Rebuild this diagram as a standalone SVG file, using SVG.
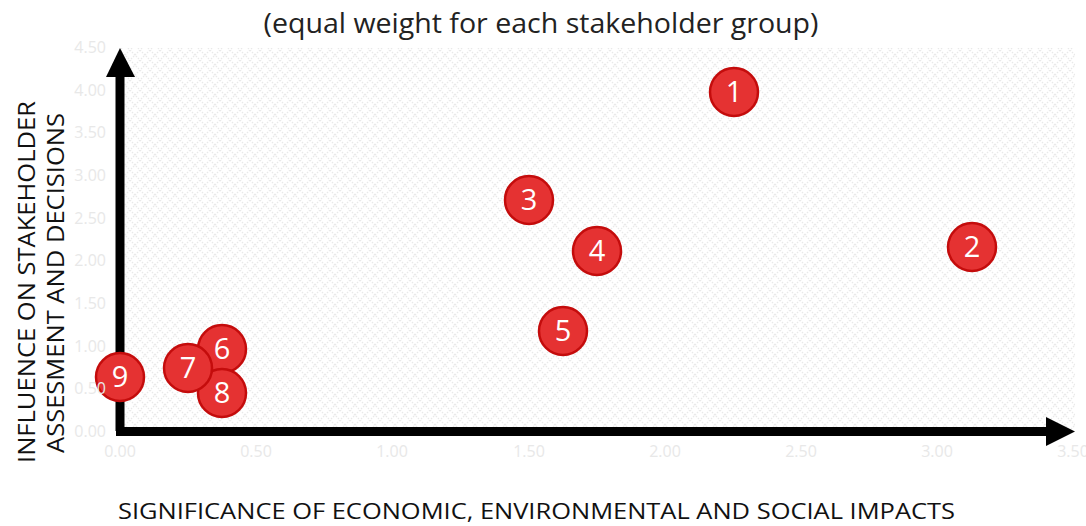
<svg xmlns="http://www.w3.org/2000/svg" width="1086" height="526" viewBox="0 0 1086 526">
<style>
.tick{font-family:"Open Sans","Liberation Sans",sans-serif;font-size:16px;fill:#e8e8e8}
.yt{text-anchor:end}
.xt{text-anchor:middle}
.lbl{font-family:"Open Sans","Liberation Sans",sans-serif;font-size:22px;fill:#111}
.node circle{fill:#e53232;stroke:#c40c0c;stroke-width:2.5}
.node text{font-family:"Open Sans","Liberation Sans",sans-serif;font-size:29px;fill:#fff;text-anchor:middle}
</style>
<defs>
<pattern id="hatch" width="10" height="10" patternUnits="userSpaceOnUse">
<path d="M0,0 L10,10 M10,0 L0,10" stroke="#e9e9e9" stroke-width="1.3" stroke-dasharray="1.5,1.3"/>
</pattern>
</defs>
<rect width="1086" height="526" fill="#fff"/>
<rect x="121" y="48" width="954" height="384" fill="url(#hatch)"/>
<text x="541" y="33" text-anchor="middle" textLength="555" lengthAdjust="spacingAndGlyphs" style="font-family:'Open Sans','Liberation Sans',sans-serif;font-size:28px;fill:#222">(equal weight for each stakeholder group)</text>
<g id="axes">
<path d="M120,431 V76" stroke="#000" stroke-width="9" fill="none"/>
<polygon points="120,48 106,77 135,77" fill="#000"/>
<path d="M116,431.5 H1047" stroke="#000" stroke-width="9" fill="none"/>
<polygon points="1075,431.5 1046,417 1046,446" fill="#000"/>
</g>
<g id="n1" class="node"><circle cx="734" cy="92" r="24"/><text x="734" y="102">1</text></g>
<g id="n2" class="node"><circle cx="972" cy="247" r="24"/><text x="972" y="257">2</text></g>
<g id="n3" class="node"><circle cx="529" cy="200" r="24"/><text x="529" y="210">3</text></g>
<g id="n4" class="node"><circle cx="597" cy="251" r="24"/><text x="597" y="261">4</text></g>
<g id="n5" class="node"><circle cx="563" cy="331" r="24"/><text x="563" y="341">5</text></g>
<g id="n6" class="node"><circle cx="222" cy="349" r="24"/><text x="222" y="359">6</text></g>
<g id="n8" class="node"><circle cx="222" cy="393" r="24"/><text x="222" y="403">8</text></g>
<g id="n7" class="node"><circle cx="188" cy="368" r="24"/><text x="188" y="378">7</text></g>
<g id="n9" class="node"><circle cx="120" cy="377" r="24"/><text x="120" y="387">9</text></g>
<g id="yticks" class="tick yt">
<text x="106" y="53">4.50</text>
<text x="106" y="96">4.00</text>
<text x="106" y="138">3.50</text>
<text x="106" y="181">3.00</text>
<text x="106" y="224">2.50</text>
<text x="106" y="266">2.00</text>
<text x="106" y="309">1.50</text>
<text x="106" y="352">1.00</text>
<text x="106" y="394">0.50</text>
<text x="106" y="437">0.00</text>
</g>
<g id="xticks" class="tick xt">
<text x="120" y="457">0.00</text>
<text x="256" y="457">0.50</text>
<text x="392" y="457">1.00</text>
<text x="529" y="457">1.50</text>
<text x="665" y="457">2.00</text>
<text x="801" y="457">2.50</text>
<text x="937" y="457">3.00</text>
<text x="1073" y="457">3.50</text>
</g>
<text class="lbl" x="118" y="519" textLength="837" lengthAdjust="spacingAndGlyphs">SIGNIFICANCE OF ECONOMIC, ENVIRONMENTAL AND SOCIAL IMPACTS</text>
<g transform="translate(35,282) rotate(-90)">
<text class="lbl" x="-181" y="0" textLength="362" lengthAdjust="spacingAndGlyphs" style="font-size:23px">INFLUENCE ON STAKEHOLDER</text>
</g>
<g transform="translate(64,283) rotate(-90)">
<text class="lbl" x="-170" y="0" textLength="340" lengthAdjust="spacingAndGlyphs" style="font-size:23px">ASSESMENT AND DECISIONS</text>
</g>
</svg>
